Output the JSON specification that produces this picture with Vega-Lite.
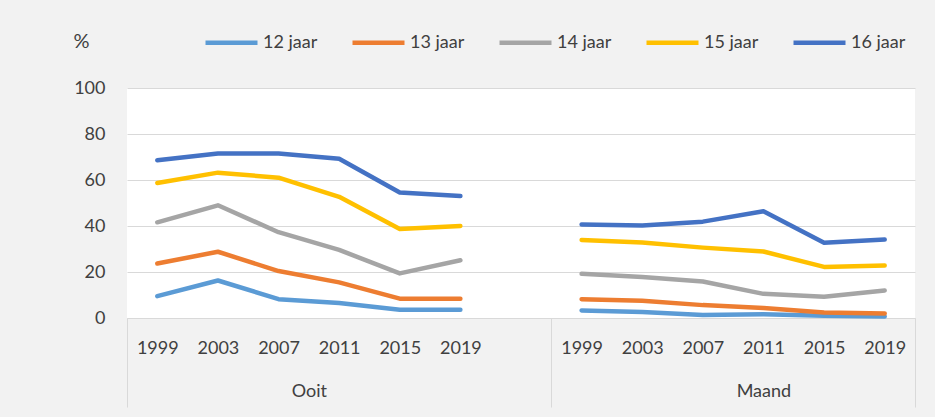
{
  "$schema": "https://vega.github.io/schema/vega-lite/v6.json",
  "width": 788,
  "height": 230,
  "autosize": {"type": "none"},
  "padding": {"left": 127, "top": 88, "right": 20, "bottom": 99},
  "background": "#f2f2f2",
  "config": {
    "view": {"fill": "white", "stroke": null},
    "font": "Lato",
    "axis": {"labelFont": "Lato", "labelColor": "#404040", "labelFontSize": 18, "titleFont": "Lato"},
    "legend": {"labelFont": "Lato"}
  },
  "data": {
    "values": [
      {"grp": "Ooit", "cat": "Ooit 1999", "12 jaar": 9.5, "13 jaar": 23.7, "14 jaar": 41.6, "15 jaar": 58.7, "16 jaar": 68.6},
      {"grp": "Ooit", "cat": "Ooit 2003", "12 jaar": 16.3, "13 jaar": 28.8, "14 jaar": 49.0, "15 jaar": 63.2, "16 jaar": 71.5},
      {"grp": "Ooit", "cat": "Ooit 2007", "12 jaar": 8.2, "13 jaar": 20.4, "14 jaar": 37.3, "15 jaar": 61.0, "16 jaar": 71.5},
      {"grp": "Ooit", "cat": "Ooit 2011", "12 jaar": 6.5, "13 jaar": 15.5, "14 jaar": 29.6, "15 jaar": 52.7, "16 jaar": 69.2},
      {"grp": "Ooit", "cat": "Ooit 2015", "12 jaar": 3.6, "13 jaar": 8.4, "14 jaar": 19.4, "15 jaar": 38.7, "16 jaar": 54.6},
      {"grp": "Ooit", "cat": "Ooit 2019", "12 jaar": 3.6, "13 jaar": 8.4, "14 jaar": 25.1, "15 jaar": 40.0, "16 jaar": 53.0},
      {"grp": "Maand", "cat": "Maand 1999", "12 jaar": 3.3, "13 jaar": 8.2, "14 jaar": 19.2, "15 jaar": 33.9, "16 jaar": 40.7},
      {"grp": "Maand", "cat": "Maand 2003", "12 jaar": 2.6, "13 jaar": 7.5, "14 jaar": 17.8, "15 jaar": 32.8, "16 jaar": 40.2},
      {"grp": "Maand", "cat": "Maand 2007", "12 jaar": 1.3, "13 jaar": 5.6, "14 jaar": 15.9, "15 jaar": 30.6, "16 jaar": 41.9},
      {"grp": "Maand", "cat": "Maand 2011", "12 jaar": 1.6, "13 jaar": 4.3, "14 jaar": 10.5, "15 jaar": 28.9, "16 jaar": 46.4},
      {"grp": "Maand", "cat": "Maand 2015", "12 jaar": 1.0, "13 jaar": 2.4, "14 jaar": 9.2, "15 jaar": 22.2, "16 jaar": 32.7},
      {"grp": "Maand", "cat": "Maand 2019", "12 jaar": 0.7, "13 jaar": 2.0, "14 jaar": 12.0, "15 jaar": 22.8, "16 jaar": 34.1}
    ]
  },
  "transform": [
    {"fold": ["12 jaar", "13 jaar", "14 jaar", "15 jaar", "16 jaar"], "as": ["age", "v"]}
  ],
  "resolve": {"axis": {"x": "independent"}},
  "layer": [
    {
      "mark": {"type": "line", "strokeWidth": 4.5, "strokeCap": "round", "strokeJoin": "round"},
      "encoding": {
        "x": {
          "field": "cat", "type": "nominal", "sort": null,
          "scale": {"type": "point", "padding": 0.5, "domain": ["Ooit 1999","Ooit 2003","Ooit 2007","Ooit 2011","Ooit 2015","Ooit 2019","gap","Maand 1999","Maand 2003","Maand 2007","Maand 2011","Maand 2015","Maand 2019"]},
          "axis": {
            "orient": "bottom", "title": null,
            "values": ["Ooit 1999","Ooit 2003","Ooit 2007","Ooit 2011","Ooit 2015","Ooit 2019","Maand 1999","Maand 2003","Maand 2007","Maand 2011","Maand 2015","Maand 2019"],
            "labelExpr": "split(datum.label, ' ')[1]",
            "labelAngle": 0, "labelPadding": 21, "labelOverlap": false,
            "ticks": false, "domain": true, "domainColor": "#d9d9d9", "domainWidth": 1, "grid": false
          }
        },
        "y": {
          "field": "v", "type": "quantitative",
          "scale": {"domain": [0, 100], "nice": false},
          "axis": {
            "values": [0, 20, 40, 60, 80, 100],
            "title": "%", "titleAngle": 0, "titleX": -54, "titleY": -47, "titleAlign": "left", "titleBaseline": "middle",
            "titleFontSize": 20, "titleFontWeight": "normal", "titleColor": "#404040",
            "domain": false, "ticks": false, "grid": true, "gridColor": "#d9d9d9", "gridWidth": 1,
            "labelPadding": 22
          }
        },
        "detail": {"field": "grp"},
        "color": {
          "field": "age", "type": "nominal",
          "scale": {"domain": ["12 jaar", "13 jaar", "14 jaar", "15 jaar", "16 jaar"], "range": ["#5b9bd5", "#ed7d31", "#a5a5a5", "#ffc000", "#4472c4"]},
          "legend": {
            "title": null, "orient": "none", "legendX": 76, "legendY": -74, "direction": "horizontal", "columns": 5,
            "symbolType": "stroke", "symbolSize": 2704, "symbolStrokeWidth": 4.5,
            "labelFontSize": 18, "labelColor": "#404040", "labelOffset": 3, "columnPadding": 25
          }
        }
      }
    },
    {
      "mark": {"type": "point", "opacity": 0},
      "encoding": {
        "x": {
          "field": "cat", "type": "nominal", "sort": null,
          "scale": {"type": "point", "padding": 0.5, "domain": ["Ooit 1999","Ooit 2003","Ooit 2007","Ooit 2011","Ooit 2015","Ooit 2019","gap","Maand 1999","Maand 2003","Maand 2007","Maand 2011","Maand 2015","Maand 2019"]},
          "axis": {
            "orient": "bottom", "title": null, "values": ["Ooit 1999"],
            "labelExpr": "'Ooit'", "labelAngle": 0, "labelOffset": 181.8, "labelPadding": -25,
            "ticks": true, "tickSize": 89, "tickOffset": -30.3, "tickColor": "#d9d9d9", "tickWidth": 1,
            "domain": false, "grid": false
          }
        },
        "y": {"field": "v", "type": "quantitative"}
      }
    },
    {
      "mark": {"type": "point", "opacity": 0},
      "encoding": {
        "x": {
          "field": "cat", "type": "nominal", "sort": null,
          "scale": {"type": "point", "padding": 0.5, "domain": ["Ooit 1999","Ooit 2003","Ooit 2007","Ooit 2011","Ooit 2015","Ooit 2019","gap","Maand 1999","Maand 2003","Maand 2007","Maand 2011","Maand 2015","Maand 2019"]},
          "axis": {
            "orient": "bottom", "title": null, "values": ["gap", "Maand 2019"],
            "labelExpr": "datum.value == 'gap' ? 'Maand' : ''", "labelAngle": 0, "labelOffset": 212.1, "labelPadding": -25,
            "ticks": true, "tickSize": 89, "tickOffset": 30.3, "tickColor": "#d9d9d9", "tickWidth": 1,
            "domain": false, "grid": false
          }
        },
        "y": {"field": "v", "type": "quantitative"}
      }
    }
  ]
}
